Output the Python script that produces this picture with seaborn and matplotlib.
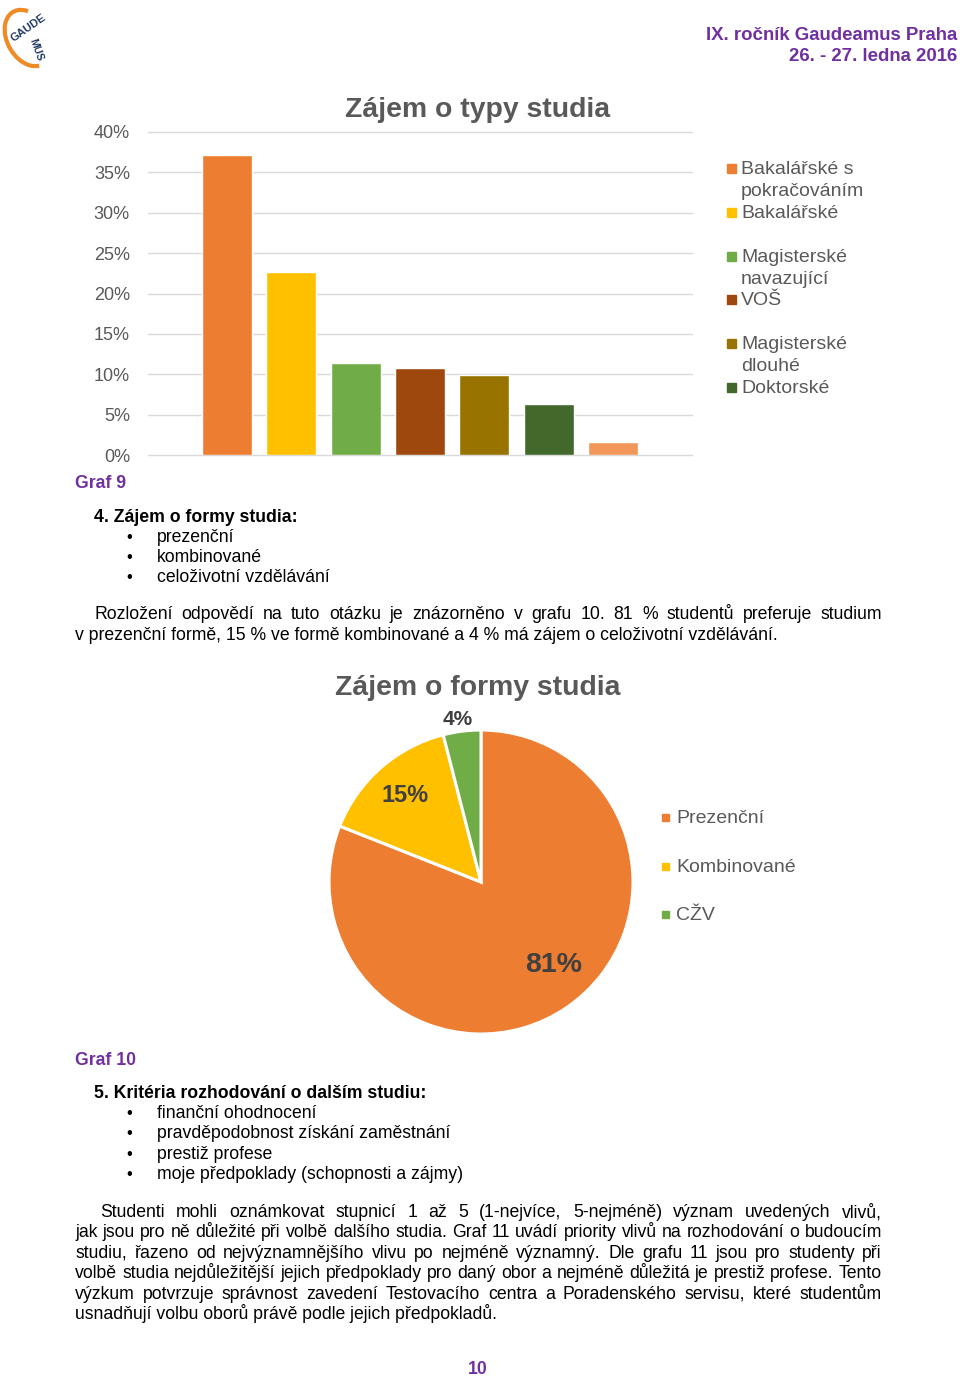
import numpy as np
import pandas as pd
import matplotlib
matplotlib.use("Agg")
import matplotlib.pyplot as plt
from matplotlib.patches import Rectangle, Arc
import seaborn as sns

# ---------------- data ----------------
typy = ["Bakalářské s pokračováním", "Bakalářské", "Magisterské navazující", "VOŠ",
        "Magisterské dlouhé", "Doktorské", "Jiné"]
typy_legend = ["Bakalářské s\npokračováním", "Bakalářské", "Magisterské\nnavazující", "VOŠ",
               "Magisterské\ndlouhé", "Doktorské"]
typy_podil = [0.372, 0.227, 0.114, 0.108, 0.099, 0.063, 0.016]
typy_barvy = ["#ED7D31", "#FFC000", "#70AD47", "#9E480E", "#997300", "#43682B", "#F1975A"]
y_ticks = [0, 0.05, 0.10, 0.15, 0.20, 0.25, 0.30, 0.35, 0.40]

formy = ["Prezenční", "Kombinované", "CŽV"]
formy_podil = [81, 15, 4]
formy_barvy = ["#ED7D31", "#FFC000", "#70AD47"]

W, H = 960, 1380
sns.set_theme(style="white")
plt.rcParams["font.family"] = ["Liberation Sans", "DejaVu Sans"]

fig = plt.figure(figsize=(W / 100, H / 100), dpi=100)
fig.patch.set_facecolor("white")
renderer = fig.canvas.get_renderer()

GRAY = "#595959"
DARK = "#404040"
PURPLE = "#7030A0"


def fx(x):
    return x / W


def fy(y):
    return 1 - y / H


def measure(s, **kw):
    t = fig.text(0, 0, s, **kw)
    w = t.get_window_extent(renderer=renderer).width
    t.remove()
    return w


def line(s, x0, x1, yb, justify=True, **kw):
    if not justify:
        fig.text(fx(x0), fy(yb), s, ha="left", va="baseline", **kw)
        return
    words = s.split(" ")
    widths = [measure(w, **kw) for w in words]
    gap = (x1 - x0 - sum(widths)) / (len(words) - 1)
    x = x0
    for w, wd in zip(words, widths):
        fig.text(fx(x), fy(yb), w, ha="left", va="baseline", **kw)
        x += wd + gap


# ---------------- header ----------------
fig.text(fx(957), fy(40), "IX. ročník Gaudeamus Praha", ha="right", va="baseline",
         fontsize=13.4, fontweight="bold", color=PURPLE)
fig.text(fx(957), fy(61), "26. - 27. ledna 2016", ha="right", va="baseline",
         fontsize=13.4, fontweight="bold", color=PURPLE)
# small logo
fig.add_artist(Arc((fx(28), fy(38)), fx(50), 50 / H, angle=-30, theta1=120, theta2=330,
                   color="#F08A24", lw=3, transform=fig.transFigure))
fig.text(fx(28), fy(28), "GAUDE", rotation=35, ha="center", va="center", fontsize=8,
         fontweight="bold", color="#1F3864")
fig.text(fx(36), fy(50), "MUS", rotation=-70, ha="center", va="center", fontsize=7.5,
         fontweight="bold", color="#1F3864")

# ---------------- bar chart ----------------
ax = fig.add_axes([fx(148), fy(455), fx(692 - 148), (455 - 132) / H])
df = pd.DataFrame({"typ": typy, "podil": typy_podil})
sns.barplot(data=df, x="typ", y="podil", hue="typ", order=typy, hue_order=typy,
            palette=typy_barvy, width=0.78, saturation=1, legend=False, ax=ax)
ax.set_xlim(-1.23, 7.23)
ax.set_ylim(0, 0.40)
ax.set_yticks(y_ticks)
ax.set_yticklabels([f"{int(round(v * 100))}%" for v in y_ticks])
ax.set_xticks([])
ax.set_xlabel("")
ax.set_ylabel("")
for s in ax.spines.values():
    s.set_visible(False)
ax.yaxis.grid(True, color="#D9D9D9", lw=1)
ax.set_axisbelow(True)
for gl in ax.get_ygridlines():
    gl.set_clip_on(False)
ax.tick_params(axis="y", length=0, pad=13, labelsize=13, labelcolor=GRAY)
ax.set_facecolor("white")

fig.text(fx(478), fy(117), "Zájem o typy studia", ha="center", va="baseline",
         fontsize=20.4, fontweight="bold", color=GRAY)

# legend of bar chart (manual, Excel-like)
for i, (lab, col) in enumerate(zip(typy_legend, typy_barvy[:6])):
    yc = 168 + i * 43.8
    fig.add_artist(Rectangle((fx(727), fy(yc + 5)), fx(9), 9 / H, color=col,
                             transform=fig.transFigure))
    for j, part in enumerate(lab.split("\n")):
        fig.text(fx(741), fy(yc + 6 + j * 22), part, ha="left", va="baseline",
                 fontsize=14, color=GRAY)

fig.text(fx(75), fy(488), "Graf 9", ha="left", va="baseline", fontsize=12.7,
         fontweight="bold", color=PURPLE)

# ---------------- text block 1 ----------------
FS = 12.7
BODY = dict(fontsize=FS, color="black")
fig.text(fx(94), fy(522), "4. Zájem o formy studia:", ha="left", va="baseline",
         fontsize=FS, fontweight="bold", color="black")
for k, s in enumerate(["prezenční", "kombinované", "celoživotní vzdělávání"]):
    yb = 542 + k * 20
    fig.text(fx(126), fy(yb), "•", ha="left", va="baseline", fontsize=12, color="black")
    fig.text(fx(157), fy(yb), s, ha="left", va="baseline", **BODY)

line("Rozložení odpovědí na tuto otázku je znázorněno v grafu 10. 81 % studentů preferuje studium",
     94, 882, 619, True, **BODY)
line("v prezenční formě, 15 % ve formě kombinované a 4 % má zájem o celoživotní vzdělávání.",
     75, 882, 640, False, **BODY)

# ---------------- pie chart ----------------
R = 152
cx, cy = 481, 882
ax2 = fig.add_axes([fx(cx - R), fy(cy + R), fx(2 * R), 2 * R / H])
wedges, _ = ax2.pie(formy_podil, colors=formy_barvy, startangle=90, counterclock=False,
                    radius=1, wedgeprops=dict(edgecolor="white", linewidth=2.2))
ax2.set_xlim(-1, 1)
ax2.set_ylim(-1, 1)
ax2.axis("off")
lab_dist = [0.73, 0.76, 1.08]
lab_shift = [7, 0, 1]      # degrees, Excel "best fit" offsets
lab_size = [20.5, 16.9, 15]
for w, v, d, sh, fs in zip(wedges, formy_podil, lab_dist, lab_shift, lab_size):
    th = np.deg2rad((w.theta1 + w.theta2) / 2 + sh)
    ax2.text(d * np.cos(th), d * np.sin(th), f"{v}%", ha="center", va="center",
             fontsize=fs, fontweight="bold", color=DARK, clip_on=False)

fig.text(fx(478), fy(695), "Zájem o formy studia", ha="center", va="baseline",
         fontsize=20.4, fontweight="bold", color=GRAY)

for i, (lab, col) in enumerate(zip(formy, formy_barvy)):
    yc = 817 + i * 48.5
    fig.add_artist(Rectangle((fx(662), fy(yc + 4)), fx(7), 7 / H, color=col,
                             transform=fig.transFigure))
    fig.text(fx(676), fy(yc + 6), lab, ha="left", va="baseline", fontsize=14, color=GRAY)

fig.text(fx(75), fy(1065), "Graf 10", ha="left", va="baseline", fontsize=12.7,
         fontweight="bold", color=PURPLE)

# ---------------- text block 2 ----------------
fig.text(fx(94), fy(1098), "5. Kritéria rozhodování o dalším studiu:", ha="left",
         va="baseline", fontsize=FS, fontweight="bold", color="black")
for k, s in enumerate(["finanční ohodnocení", "pravděpodobnost získání zaměstnání",
                       "prestiž profese", "moje předpoklady (schopnosti a zájmy)"]):
    yb = 1118 + k * 20.3
    fig.text(fx(126), fy(yb), "•", ha="left", va="baseline", fontsize=12, color="black")
    fig.text(fx(157), fy(yb), s, ha="left", va="baseline", **BODY)

para = [
    ("Studenti mohli oznámkovat stupnicí 1 až 5 (1-nejvíce, 5-nejméně) význam uvedených vlivů,", 100, True),
    ("jak jsou pro ně důležité při volbě dalšího studia. Graf 11 uvádí priority vlivů na rozhodování o budoucím", 75, True),
    ("studiu, řazeno od nejvýznamnějšího vlivu po nejméně významný. Dle grafu 11 jsou pro studenty při", 75, True),
    ("volbě studia nejdůležitější jejich předpoklady pro daný obor a nejméně důležitá je prestiž profese. Tento", 75, True),
    ("výzkum potvrzuje správnost zavedení Testovacího centra a Poradenského servisu, které studentům", 75, True),
    ("usnadňují volbu oborů právě podle jejich předpokladů.", 75, False),
]
for k, (s, x0, j) in enumerate(para):
    line(s, x0, 882, 1217 + k * 20.4, j, **BODY)

fig.text(fx(478), fy(1374), "10", ha="center", va="baseline", fontsize=12.7,
         fontweight="bold", color=PURPLE)

fig.savefig("out.png", dpi=100, facecolor="white")
